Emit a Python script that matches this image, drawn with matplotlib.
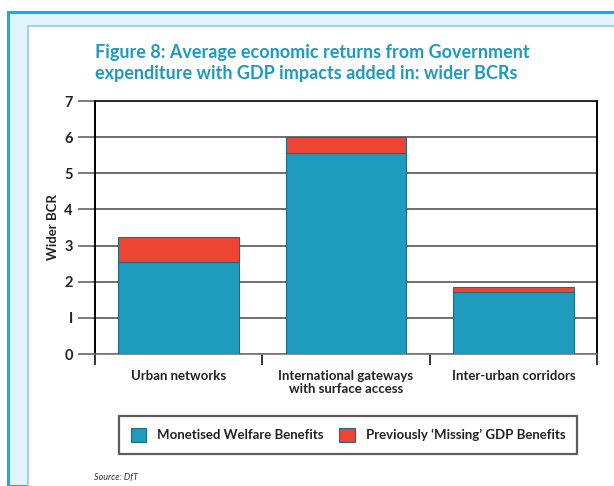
import matplotlib.pyplot as plt
from matplotlib.patches import Rectangle

# wider BCR by scheme type
categories = ['Urban networks', 'International gateways\nwith surface access', 'Inter-urban corridors']
welfare = [2.55, 5.57, 1.72]
gdp_extra = [0.68, 0.43, 0.13]

blue = '#1f9bbd'
red = '#ee4433'
title_col = '#1b9bc4'

plt.rcParams['font.family'] = ['Lato', 'DejaVu Sans']

fig = plt.figure(figsize=(6.14, 4.86), dpi=100)
W, H = 614, 486

# page frame: blue rule, light band, white panel
fig.patches.append(Rectangle((8 / W, 0), 1, (486 - 12) / H, transform=fig.transFigure,
                             facecolor='#e1f3fb', edgecolor='none', zorder=0))
fig.patches.append(Rectangle((8 / W, 0), 1, (486 - 12) / H, transform=fig.transFigure,
                             facecolor='none', edgecolor='#12aee8', linewidth=2.2, zorder=1))
fig.patches.append(Rectangle((28 / W, -0.01), 1, (486 - 26) / H + 0.01, transform=fig.transFigure,
                             facecolor='white', edgecolor='#9cc8d8', linewidth=1.2, zorder=1))

ax = fig.add_axes([95 / W, (486 - 354) / H, (597 - 95) / W, (354 - 101) / H])
ax.set_zorder(2)
x = range(len(categories))
ax.bar(x, welfare, width=0.72, color=blue, edgecolor='#1a6d80', linewidth=0.8, zorder=3,
       label='Monetised Welfare Benefits')
ax.bar(x, gdp_extra, bottom=welfare, width=0.72, color=red, edgecolor='#1a6d80', linewidth=0.8,
       zorder=3, label="Previously \u2018Missing\u2019 GDP Benefits")

ax.set_xlim(-0.5, 2.5)
ax.set_ylim(0, 7)
ax.set_yticks(range(8))
ax.set_yticklabels([str(i) if i != 1 else 'I' for i in range(8)], fontsize=10.5, fontweight='bold', color='#222222')
ax.yaxis.grid(True, color='#555555', linewidth=1.2, zorder=0)
ax.tick_params(axis='y', length=12, width=1.2, color='#666666', pad=4)

ax.set_xticks([-0.5, 0.5, 1.5, 2.5])
ax.set_xticklabels([])
ax.tick_params(axis='x', length=8, width=1.2, color='#111111')
for i, c in enumerate(categories):
    ax.text(i, -0.45, c, ha='center', va='top', fontsize=9.5, fontweight='bold', color='#222222',
            linespacing=1.1)

ax.spines['top'].set_color('#111111')
ax.spines['top'].set_linewidth(1.2)
ax.spines['left'].set_linewidth(1.4)
ax.spines['right'].set_linewidth(1.4)
ax.spines['bottom'].set_color('#777777')
ax.spines['bottom'].set_linewidth(1.2)

ax.set_ylabel('Wider BCR', fontsize=9.5, fontweight='bold', color='#222222', labelpad=4)

fig.text(95 / W, 1 - 63 / H, 'Figure 8: Average economic returns from Government\n'
         'expenditure with GDP impacts added in: wider BCRs',
         ha='left', va='center', fontsize=13, fontweight='bold', color=title_col, linespacing=1.3)

leg = fig.legend(loc='center', bbox_to_anchor=(348 / W, 1 - 435 / H), ncol=2, frameon=True,
                 fancybox=False, prop={'weight': 'bold', 'size': 9.5}, handlelength=1.2,
                 handleheight=1.2, columnspacing=1.2, borderpad=0.9, handletextpad=0.8)
leg.get_frame().set_edgecolor('#333333')
leg.get_frame().set_linewidth(1.6)
for t in leg.get_texts():
    t.set_color('#222222')

fig.text(94 / W, 1 - 477 / H, 'Source: DfT', fontsize=6.5, style='italic', color='#333333', va='center')

fig.savefig('out.png', dpi=100)
